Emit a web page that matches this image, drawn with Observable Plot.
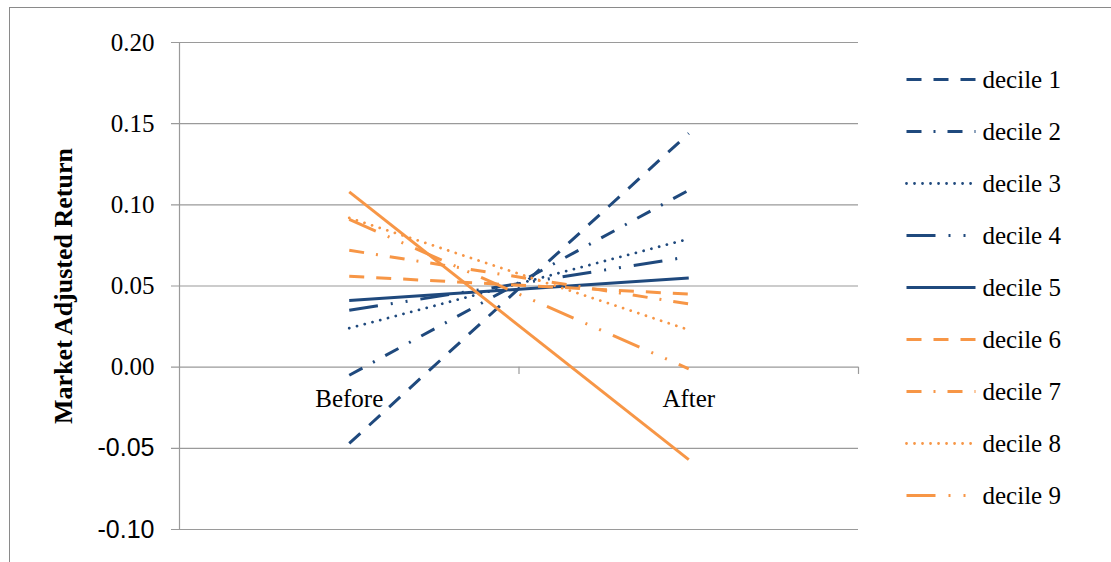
<!DOCTYPE html>
<html>
<head>
<meta charset="utf-8">
<script src="https://cdn.jsdelivr.net/npm/d3@7"></script>
<script src="https://cdn.jsdelivr.net/npm/@observablehq/plot@0.6"></script>
<style>
  html, body { margin: 0; padding: 0; background: #fff; }
  #wrap { position: relative; width: 1111px; height: 562px; overflow: hidden; }
  #frame { position: absolute; left: 9px; top: 7px; right: -10px; bottom: -10px;
           border-left: 1.5px solid #8a8a8a; border-top: 1.5px solid #8a8a8a; }
  #chart, #legend { position: absolute; top: 0; }
  #chart { left: 0; }
  #legend { left: 890px; }
</style>
</head>
<body>
<div id="wrap">
  <div id="frame"></div>
  <div id="chart"></div>
  <div id="legend"></div>
</div>
<script>
// Market adjusted returns by decile, before vs. after
const periods = ["Before", "After"];
const deciles = ["decile 1", "decile 2", "decile 3", "decile 4", "decile 5",
                 "decile 6", "decile 7", "decile 8", "decile 9", "decile 10"];
const beforeReturns = [-0.047, -0.005, 0.024, 0.035, 0.041, 0.056, 0.072, 0.092, 0.091, 0.108];
const afterReturns  = [ 0.144,  0.109, 0.079, 0.068, 0.055, 0.045, 0.039, 0.023, -0.001, -0.057];
const yTicks = [-0.10, -0.05, 0.00, 0.05, 0.10, 0.15, 0.20];
const legendDeciles = deciles.slice(0, 9); // the legend box shows deciles 1-9

// Series styling
const blue = "#1f497d", orange = "#f79646";
const seriesColor = deciles.map((d, i) => i < 5 ? blue : orange);
const dashPatterns = ["15,12", "15,12,2,12", "0.01,8", "29,13,2,13,2,13", "none"];
const dashCaps = ["butt", "butt", "round", "butt", "butt"];
const seriesDash = deciles.map((d, i) => dashPatterns[i % 5]);
const seriesCap = deciles.map((d, i) => dashCaps[i % 5]);
const seriesWidth = deciles.map((d, i) => (i % 5 === 2) ? 2.8 : 3);

// Long-format rows: position 0.5 = Before, 1.5 = After on a [0, 2] category axis
const rows = deciles.flatMap((d, i) => [
  {decile: d, period: periods[0], pos: 0.5, value: beforeReturns[i]},
  {decile: d, period: periods[1], pos: 1.5, value: afterReturns[i]}
]);

const grid = "#9a9a9a";
const serif = "'Liberation Serif', 'DejaVu Serif', serif";
const sans = "'Liberation Sans', Arial, sans-serif";

const lineMarks = deciles.map((d, i) =>
  Plot.line(rows.filter(r => r.decile === d), {
    x: "pos", y: "value",
    stroke: seriesColor[i], strokeWidth: seriesWidth[i],
    strokeDasharray: seriesDash[i], strokeLinecap: seriesCap[i]
  })
);

const chart = Plot.plot({
  width: 1111, height: 562,
  marginLeft: 179, marginRight: 253, marginTop: 42, marginBottom: 33,
  x: {domain: [0, 2], axis: null},
  y: {domain: [-0.10, 0.20], axis: null},
  style: {background: "transparent", overflow: "visible", fontFamily: serif},
  marks: [
    // horizontal gridlines, extended left past the axis as tick marks
    Plot.ruleY(yTicks, {x1: -0.0236, x2: 2, stroke: grid, strokeWidth: 1.2}),
    // vertical axis line
    Plot.ruleX([0], {y1: -0.10, y2: 0.20, stroke: grid, strokeWidth: 1.2}),
    // category boundary ticks hanging below the zero line
    Plot.ruleX([1, 2], {y1: 0, y2: -0.0045, stroke: grid, strokeWidth: 1.2}),
    // y tick labels (serif for non-negative, sans for negative)
    Plot.text(yTicks.filter(v => v >= 0), {x: 0, y: d => d, text: d => d.toFixed(2),
      dx: -25, textAnchor: "end", fontFamily: serif, fontSize: 25, fill: "#000"}),
    Plot.text(yTicks.filter(v => v < 0), {x: 0, y: d => d, text: d => d.toFixed(2),
      dx: -25, textAnchor: "end", fontFamily: sans, fontSize: 25, fill: "#000"}),
    // category labels
    Plot.text(periods, {x: (d, i) => i + 0.5, y: 0, text: d => d, dy: 32,
      fontFamily: serif, fontSize: 25, fill: "#000"}),
    // y axis title
    Plot.text(["Market Adjusted Return"], {frameAnchor: "left", textAnchor: "middle",
      dx: -116, rotate: -90,
      fontFamily: serif, fontSize: 26, fontWeight: "bold", fill: "#000"}),
    ...lineMarks
  ]
});
document.getElementById("chart").appendChild(chart);

// Legend: sample line + label for deciles 1-9
const legendRows = legendDeciles.map((d, i) => ({decile: d, idx: i}));
const legendMarks = legendRows.map(r =>
  Plot.link([r], {x1: 0, x2: 1, y1: "decile", y2: "decile",
    stroke: seriesColor[r.idx], strokeWidth: seriesWidth[r.idx],
    strokeDasharray: seriesDash[r.idx], strokeLinecap: seriesCap[r.idx]})
);
const legend = Plot.plot({
  width: 221, height: 562,
  marginLeft: 16, marginRight: 136, marginTop: 77, marginBottom: 65,
  x: {domain: [0, 1], axis: null},
  y: {type: "point", domain: legendDeciles, padding: 0, axis: null},
  style: {background: "transparent", overflow: "visible", fontFamily: serif},
  marks: [
    ...legendMarks,
    Plot.text(legendRows, {x: 1, y: "decile", text: "decile", dx: 7, textAnchor: "start",
      fontFamily: serif, fontSize: 25, fill: "#000"})
  ]
});
document.getElementById("legend").appendChild(legend);
</script>
</body>
</html>
